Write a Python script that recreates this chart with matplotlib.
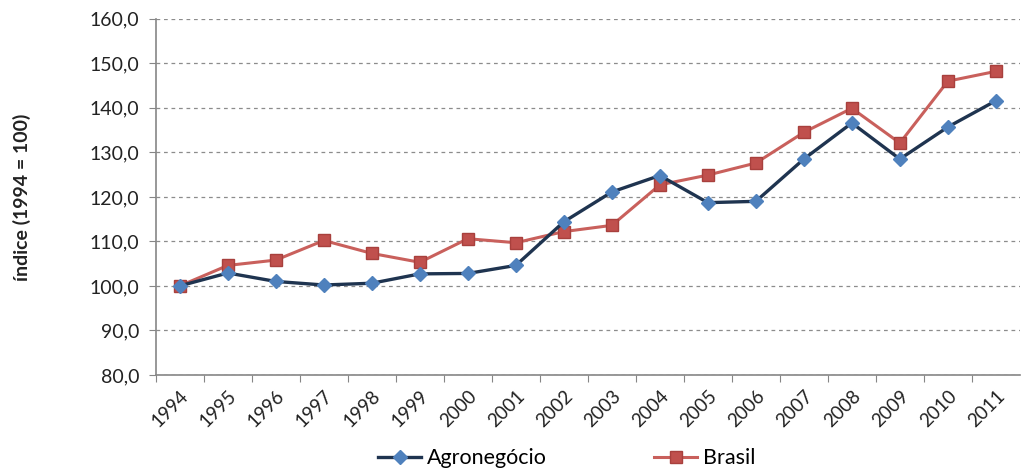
import matplotlib
matplotlib.use("Agg")
import matplotlib.pyplot as plt
import numpy as np

plt.rcParams['font.family'] = ['Lato', 'DejaVu Sans']

# index series, 1994 = 100
anos = ['1994', '1995', '1996', '1997', '1998', '1999', '2000', '2001', '2002',
        '2003', '2004', '2005', '2006', '2007', '2008', '2009', '2010', '2011']
agronegocio = [100.0, 102.9, 101.0, 100.2, 100.6, 102.7, 102.8, 104.6, 114.4,
               121.1, 124.8, 118.7, 119.0, 128.5, 136.6, 128.5, 135.7, 141.6]
brasil = [100.0, 104.6, 105.8, 110.2, 107.3, 105.3, 110.6, 109.7, 112.2,
          113.6, 122.7, 124.9, 127.6, 134.5, 139.9, 132.1, 146.0, 148.2]
yticks = [80, 90, 100, 110, 120, 130, 140, 150, 160]

fig = plt.figure(figsize=(10.25, 4.71), dpi=100)
ax = fig.add_axes([0.152, 0.204, 0.843, 0.756])

x = np.arange(len(anos))
ax.plot(x, agronegocio, color='#1f3450', lw=2.4, marker='D', ms=7,
        mfc='#4f81bd', mec='#4f81bd', label='Agronegócio', zorder=3)
ax.plot(x, brasil, color='#c9605c', lw=2.2, marker='s', ms=9,
        mfc='#c0504d', mec='#a8403d', label='Brasil', zorder=2)

ax.set_xlim(-0.5, len(anos) - 0.5)
ax.set_ylim(80, 160)
ax.set_yticks(yticks)
ax.set_yticklabels([f'{v:.1f}'.replace('.', ',') for v in yticks], fontsize=14,
                   color='#222222')
ax.yaxis.grid(True, linestyle=(0, (3, 3)), color='#8c8c8c', lw=0.9)
ax.set_axisbelow(True)

# category ticks sit between the years, labels under each year
ax.set_xticks(x - 0.5, minor=False)
ax.set_xticklabels([])
ax.set_xticks(x, minor=True)
ax.set_xticklabels(anos, minor=True, rotation=45, ha='right', va='top',
                   rotation_mode='anchor', fontsize=13.5, color='#222222')
ax.tick_params(axis='x', which='minor', length=0, pad=9)
ax.tick_params(axis='x', which='major', length=5, color='#868686')
ax.tick_params(axis='y', length=5, color='#868686', pad=7)

for s in ['top', 'right']:
    ax.spines[s].set_visible(False)
for s in ['left', 'bottom']:
    ax.spines[s].set_color('#868686')
    ax.spines[s].set_linewidth(1.2)

ax.set_ylabel('índice (1994 = 100)', fontsize=14, fontweight='bold',
              color='#222222', labelpad=42)

fig.legend(loc='lower center', bbox_to_anchor=(0.553, -0.035), ncol=2,
           frameon=False, fontsize=15.5, handlelength=2.0, columnspacing=5,
           handletextpad=0.25)

fig.savefig('out.png', dpi=100)
